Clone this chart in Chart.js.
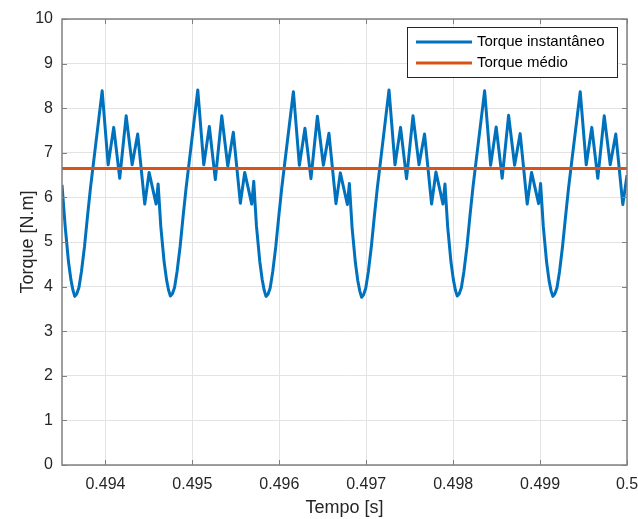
<!DOCTYPE html>
<html>
<head>
<meta charset="utf-8">
<script src="https://cdn.jsdelivr.net/npm/chart.js@4/dist/chart.umd.min.js"></script>
<style>
  body { margin: 0; background: #fff; }
  #grafico { display: block; }
</style>
</head>
<body>
<canvas id="grafico" width="638" height="519"></canvas>
<script>
// =========================================
// DADOS
// =========================================
const tempo = [
    // cauda do periodo anterior
    0.4935, 0.493537, 0.493575, 0.493603, 0.493626, 0.493647, 0.493670, 0.493695, 0.493724, 0.493759, 0.493793, 0.493828, 0.493862,
    0.493962, 0.494031, 0.494095, 0.494164, 0.494238, 0.494307, 0.494371, 0.494452, 0.494502, 0.494583, 0.494606, 0.494637, 0.494675, 0.494703, 0.494726, 0.494747, 0.494770, 0.494795, 0.494824, 0.494859, 0.494893, 0.494928, 0.494962,
    0.495062, 0.495131, 0.495195, 0.495264, 0.495338, 0.495407, 0.495471, 0.495552, 0.495602, 0.495683, 0.495706, 0.495737, 0.495775, 0.495803, 0.495826, 0.495847, 0.495870, 0.495895, 0.495924, 0.495959, 0.495993, 0.496028, 0.496062,
    0.496162, 0.496231, 0.496295, 0.496364, 0.496438, 0.496507, 0.496571, 0.496652, 0.496702, 0.496783, 0.496806, 0.496837, 0.496875, 0.496903, 0.496926, 0.496947, 0.496970, 0.496995, 0.497024, 0.497059, 0.497093, 0.497128, 0.497162,
    0.497262, 0.497331, 0.497395, 0.497464, 0.497538, 0.497607, 0.497671, 0.497752, 0.497802, 0.497883, 0.497906, 0.497937, 0.497975, 0.498003, 0.498026, 0.498047, 0.498070, 0.498095, 0.498124, 0.498159, 0.498193, 0.498228, 0.498262,
    0.498362, 0.498431, 0.498495, 0.498564, 0.498638, 0.498707, 0.498771, 0.498852, 0.498902, 0.498983, 0.499006, 0.499037, 0.499075, 0.499103, 0.499126, 0.499147, 0.499170, 0.499195, 0.499224, 0.499259, 0.499293, 0.499328, 0.499362,
    0.499462, 0.499531, 0.499595, 0.499664, 0.499738, 0.499807, 0.499871, 0.499952, 0.5
];

const torqueInstantaneo = [
    6.28, 5.34, 4.55, 4.15, 3.92, 3.78, 3.84, 3.98, 4.34, 4.90, 5.57, 6.22, 6.77,
    8.39, 6.73, 7.57, 6.43, 7.83, 6.73, 7.42, 5.85, 6.56, 5.85, 6.30, 5.34, 4.55, 4.15, 3.92, 3.79, 3.84, 3.98, 4.34, 4.90, 5.57, 6.22, 6.77,
    8.41, 6.73, 7.59, 6.40, 7.83, 6.70, 7.46, 5.87, 6.56, 5.85, 6.36, 5.36, 4.57, 4.16, 3.92, 3.78, 3.83, 3.97, 4.33, 4.89, 5.56, 6.21, 6.76,
    8.37, 6.72, 7.55, 6.42, 7.82, 6.72, 7.44, 5.86, 6.55, 5.84, 6.31, 5.33, 4.54, 4.13, 3.90, 3.76, 3.82, 3.97, 4.33, 4.90, 5.57, 6.22, 6.77,
    8.41, 6.73, 7.57, 6.42, 7.83, 6.73, 7.42, 5.85, 6.57, 5.85, 6.30, 5.34, 4.55, 4.15, 3.92, 3.79, 3.84, 3.98, 4.34, 4.90, 5.58, 6.23, 6.78,
    8.39, 6.72, 7.58, 6.43, 7.84, 6.72, 7.43, 5.85, 6.56, 5.86, 6.31, 5.35, 4.55, 4.14, 3.91, 3.78, 3.84, 3.98, 4.34, 4.91, 5.57, 6.22, 6.77,
    8.37, 6.73, 7.57, 6.43, 7.83, 6.73, 7.42, 5.84, 6.50
];

const tempoMedio = [0.4935, 0.5];
const torqueMedio = [6.65, 6.65];

const marcasX = [0.494, 0.495, 0.496, 0.497, 0.498, 0.499, 0.5];
const rotulosX = ['0.494', '0.495', '0.496', '0.497', '0.498', '0.499', '0.5'];
const marcasY = [0, 1, 2, 3, 4, 5, 6, 7, 8, 9, 10];

const fonte = '"Liberation Sans", Arial, sans-serif';

// =========================================
// PLUGIN: caixa dos eixos, marcas internas e legenda (estilo MATLAB)
// =========================================
const estiloMatlab = {
    id: 'estiloMatlab',
    afterDatasetsDraw(chart) {
        const c = chart.ctx;
        const a = chart.chartArea;
        const sx = chart.scales.x;
        const sy = chart.scales.y;

        // caixa + marcas para dentro
        c.save();
        c.strokeStyle = '#808080';
        c.lineWidth = 1.5;
        c.strokeRect(a.left, a.top, a.right - a.left, a.bottom - a.top);
        c.lineWidth = 1;
        c.beginPath();
        sx.ticks.forEach(t => {
            const px = Math.round(sx.getPixelForValue(t.value)) + 0.5;
            c.moveTo(px, a.bottom); c.lineTo(px, a.bottom - 5);
            c.moveTo(px, a.top); c.lineTo(px, a.top + 5);
        });
        sy.ticks.forEach(t => {
            const py = Math.round(sy.getPixelForValue(t.value)) + 0.5;
            c.moveTo(a.left, py); c.lineTo(a.left + 5, py);
            c.moveTo(a.right, py); c.lineTo(a.right - 5, py);
        });
        c.stroke();

        // legenda
        const lx = a.right - 220, ly = a.top + 8, lw = 210, lh = 50;
        c.fillStyle = '#fff';
        c.fillRect(lx, ly, lw, lh);
        c.strokeStyle = '#262626';
        c.lineWidth = 1;
        c.strokeRect(lx + 0.5, ly + 0.5, lw, lh);
        c.font = '15px ' + fonte;
        c.textBaseline = 'middle';
        c.textAlign = 'left';
        chart.data.datasets.forEach((ds, i) => {
            const y = ly + 15 + i * 21;
            c.strokeStyle = ds.borderColor;
            c.lineWidth = 3;
            c.beginPath();
            c.moveTo(lx + 9, y); c.lineTo(lx + 65, y);
            c.stroke();
            c.fillStyle = '#000';
            c.fillText(ds.label, lx + 70, y);
        });
        c.restore();
    }
};

// =========================================
// GRAFICO
// =========================================
const ctx = document.getElementById('grafico').getContext('2d');

new Chart(ctx, {
    type: 'line',
    data: {
        datasets: [
            {
                label: 'Torque instantâneo',
                data: tempo.map((t, i) => ({ x: t, y: torqueInstantaneo[i] })),
                borderColor: '#0072BD',
                borderWidth: 3,
                borderJoinStyle: 'round',
                pointRadius: 0,
                tension: 0,
                order: 2
            },
            {
                label: 'Torque médio',
                data: tempoMedio.map((t, i) => ({ x: t, y: torqueMedio[i] })),
                borderColor: '#D95319',
                borderWidth: 3,
                pointRadius: 0,
                tension: 0,
                order: 1
            }
        ]
    },
    options: {
        responsive: false,
        animation: false,
        devicePixelRatio: 1,
        layout: { padding: { top: 19, right: 11, left: 0, bottom: 0 } },
        plugins: { legend: { display: false }, tooltip: { enabled: false } },
        scales: {
            x: {
                type: 'linear',
                min: 0.4935,
                max: 0.5,
                afterBuildTicks: s => { s.ticks = marcasX.map(v => ({ value: v })); },
                afterFit: s => { s.height = 54; s.paddingLeft = 0; s.paddingRight = 0; },
                grid: { color: '#e3e3e3', drawTicks: false },
                border: { display: false },
                ticks: {
                    padding: 10,
                    maxRotation: 0,
                    autoSkip: false,
                    color: '#262626',
                    font: { family: fonte, size: 16 },
                    callback: (v, i) => rotulosX[i]
                },
                title: {
                    display: true,
                    text: 'Tempo [s]',
                    color: '#262626',
                    font: { family: fonte, size: 18 },
                    padding: 0
                }
            },
            y: {
                min: 0,
                max: 10,
                afterBuildTicks: s => { s.ticks = marcasY.map(v => ({ value: v })); },
                afterFit: s => { s.width = 62; s.paddingTop = 0; s.paddingBottom = 0; },
                grid: { color: '#e3e3e3', drawTicks: false },
                border: { display: false },
                ticks: {
                    padding: 9,
                    color: '#262626',
                    font: { family: fonte, size: 16 }
                },
                title: {
                    display: true,
                    text: 'Torque [N.m]',
                    color: '#262626',
                    font: { family: fonte, size: 18 },
                    padding: { top: 17, bottom: 0 }
                }
            }
        }
    },
    plugins: [estiloMatlab]
});
</script>
</body>
</html>
